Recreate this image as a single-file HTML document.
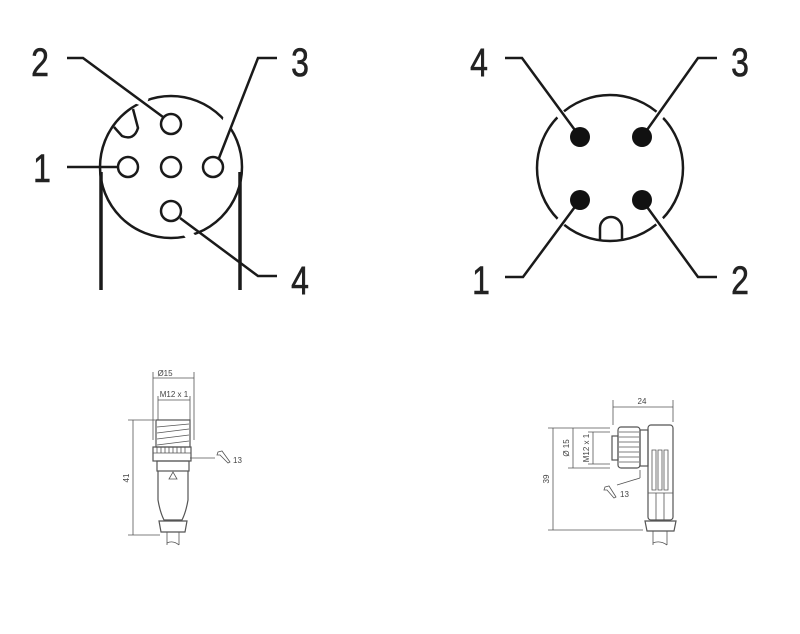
<!DOCTYPE html>
<html><head><meta charset="utf-8"><style>
html,body{margin:0;padding:0;background:#fff;}
svg{display:block;}
.d{font-family:"Liberation Sans",sans-serif;font-size:40px;fill:#222;stroke:#222;stroke-width:0.6;}
.s{font-family:"Liberation Sans",sans-serif;font-size:8px;fill:#444;}
</style></head><body>
<svg width="800" height="634" viewBox="0 0 800 634" xmlns="http://www.w3.org/2000/svg">
<g fill="none" stroke="#1a1a1a" stroke-width="2.5">
  <circle cx="171" cy="167" r="71"/>
  <circle cx="610" cy="168" r="73"/>
</g>
<g fill="none" stroke="#fff" stroke-width="9">
  <line x1="128" y1="96" x2="147" y2="103"/>
  <line x1="230" y1="110" x2="222" y2="140"/>
  <line x1="182" y1="226" x2="198" y2="246"/>
  <line x1="545" y1="96" x2="580" y2="137"/>
  <line x1="675" y1="96" x2="642" y2="137"/>
  <line x1="545" y1="240" x2="580" y2="200"/>
  <line x1="675" y1="240" x2="642" y2="200"/>
</g>
<g fill="none" stroke="#1a1a1a" stroke-width="2.5">
  <path d="M114 127 L122 136 Q134 141 138 128 L133 109"/>
  <circle cx="128" cy="167" r="10"/>
  <circle cx="171" cy="167" r="10"/>
  <circle cx="213" cy="167" r="10"/>
  <circle cx="171" cy="124" r="10"/>
  <circle cx="171" cy="211" r="10"/>
  <line x1="101" y1="172" x2="101" y2="290" stroke-width="3.5"/>
  <line x1="240" y1="172" x2="240" y2="290" stroke-width="3.5"/>
  <polyline points="67,58 83,58 163,117"/>
  <polyline points="277,58 258,58 219,158"/>
  <line x1="67" y1="167" x2="117" y2="167"/>
  <polyline points="180,218 258,276 277,276"/>
  <path d="M600 241 L600 228 A11 11 0 0 1 622 228 L622 241"/>
  <polyline points="505,58 522,58 580,137"/>
  <polyline points="717,58 698,58 642,137"/>
  <polyline points="505,277 523,277 580,200"/>
  <polyline points="717,277 698,277 642,200"/>
</g>
<g fill="#111">
  <circle cx="580" cy="137" r="10"/>
  <circle cx="642" cy="137" r="10"/>
  <circle cx="580" cy="200" r="10"/>
  <circle cx="642" cy="200" r="10"/>
</g>
<g class="d">
  <text x="40" y="76" transform="scale(0.8,1)" transform-origin="40 62" text-anchor="middle">2</text>
  <text x="300" y="76" text-anchor="middle" transform="scale(0.8,1)" transform-origin="300 62">3</text>
  <text x="42" y="182" text-anchor="middle" transform="scale(0.8,1)" transform-origin="42 168">1</text>
  <text x="300" y="294" text-anchor="middle" transform="scale(0.8,1)" transform-origin="300 280">4</text>
  <text x="479" y="76" text-anchor="middle" transform="scale(0.8,1)" transform-origin="479 62">4</text>
  <text x="740" y="76" text-anchor="middle" transform="scale(0.8,1)" transform-origin="740 62">3</text>
  <text x="481" y="294" text-anchor="middle" transform="scale(0.8,1)" transform-origin="481 280">1</text>
  <text x="740" y="294" text-anchor="middle" transform="scale(0.8,1)" transform-origin="740 280">2</text>
</g>
<g fill="none" stroke="#555" stroke-width="0.8">
  <line x1="153" y1="372" x2="153" y2="440"/><line x1="194" y1="372" x2="194" y2="440"/>
  <line x1="153" y1="378" x2="194" y2="378"/>
  <line x1="158" y1="400" x2="190" y2="400"/>
  <line x1="158" y1="396" x2="158" y2="420"/><line x1="190" y1="396" x2="190" y2="420"/>
  <line x1="133" y1="420" x2="133" y2="535"/>
  <line x1="128" y1="420" x2="155" y2="420"/><line x1="128" y1="535" x2="160" y2="535"/>
  <rect x="156" y="420" width="34" height="27" stroke-width="1.2"/>
  <path d="M157 427 L189 424 M157 433 L189 429 M157 439 L189 435 M157 445 L189 441"/>
  <rect x="153" y="447" width="38" height="14" stroke-width="1.2"/>
  <path d="M157 447v6M161 447v6M165 447v6M169 447v6M173 447v6M177 447v6M181 447v6M185 447v6M153 453h38"/>
  <rect x="157" y="461" width="32" height="10" stroke-width="1.2"/>
  <path d="M158 471 L158 500 Q160 512 164 520 L182 520 Q186 512 188 500 L188 471" stroke-width="1.2"/>
  <path d="M159 521 L187 521 L185 532 L161 532 Z" stroke-width="1.2"/>
  <path d="M167 532 L167 545 M179 532 L179 545 M167 543 Q173 540 179 545"/>
  <path d="M169 479 L173 472 L177 479 Z"/>
  <line x1="190" y1="458" x2="215" y2="458"/>
  <path d="M218 452 L222 451 L230 462 L228 463 L220 455 L217 455 Z"/>
  <line x1="613" y1="400" x2="613" y2="425"/><line x1="673" y1="400" x2="673" y2="422"/>
  <line x1="613" y1="407" x2="673" y2="407"/>
  <line x1="553" y1="428" x2="553" y2="530"/>
  <line x1="548" y1="428" x2="610" y2="428"/><line x1="548" y1="530" x2="643" y2="530"/>
  <line x1="573" y1="428" x2="573" y2="468"/><line x1="568" y1="468" x2="610" y2="468"/>
  <line x1="593" y1="432" x2="593" y2="464"/><line x1="588" y1="432" x2="610" y2="432"/><line x1="588" y1="464" x2="610" y2="464"/>
  <rect x="612" y="436" width="6" height="24" stroke-width="1.2"/>
  <rect x="618" y="427" width="22" height="41" rx="3" stroke-width="1.2"/>
  <path d="M619 432h20M619 437h20M619 442h20M619 447h20M619 452h20M619 457h20M619 462h20"/>
  <rect x="640" y="430" width="8" height="36" stroke-width="1.2"/>
  <line x1="640" y1="470" x2="640" y2="478"/><line x1="640" y1="478" x2="617" y2="485"/>
  <rect x="648" y="425" width="25" height="95" rx="3" stroke-width="1.2"/>
  <path d="M652 450v40h4v-40zM658 450v40h4v-40zM664 450v40h4v-40zM648 493h25M656 493v27M664 493v27"/>
  <path d="M645 521 L676 521 L674 531 L647 531 Z" stroke-width="1.2"/>
  <path d="M653 531 L653 545 M667 531 L667 545 M653 543 Q660 540 667 545"/>
  <path d="M605 487 L609 486 L616 497 L614 498 L607 490 L604 490 Z"/>
</g>
<g class="s">
  <text x="165" y="376" text-anchor="middle">Ø15</text>
  <text x="174" y="397" text-anchor="middle">M12 x 1</text>
  <text x="233" y="463">13</text>
  <text x="129" y="478" text-anchor="middle" transform="rotate(-90 129 478)">41</text>
  <text x="642" y="404" text-anchor="middle">24</text>
  <text x="549" y="479" text-anchor="middle" transform="rotate(-90 549 479)">39</text>
  <text x="569" y="448" text-anchor="middle" transform="rotate(-90 569 448)">Ø 15</text>
  <text x="589" y="448" text-anchor="middle" transform="rotate(-90 589 448)">M12 x 1</text>
  <text x="620" y="497">13</text>
</g>
</svg>
</body></html>
